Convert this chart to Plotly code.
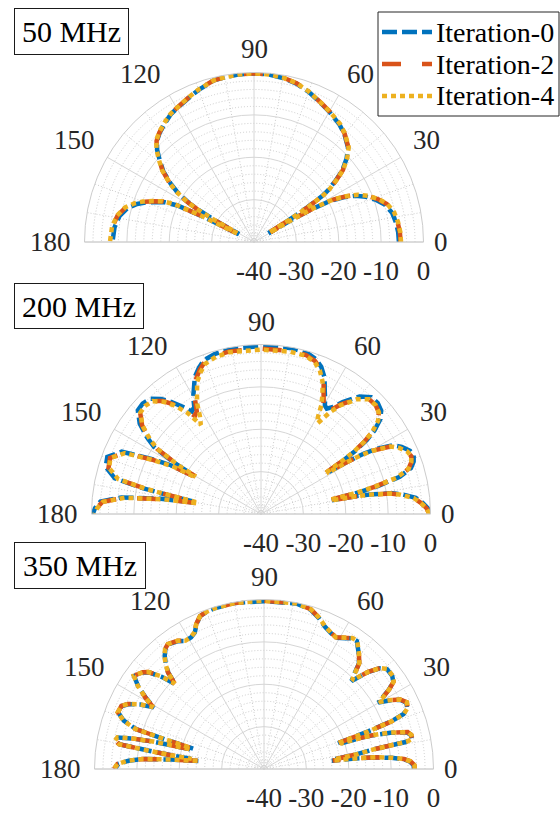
import math
import plotly.graph_objects as go

# ---------------- data (dB vs angle in degrees) ----------------
series_names = ["Iteration-0", "Iteration-2", "Iteration-4"]
panel_titles = ["50 MHz", "200 MHz", "350 MHz"]
angle_ticks = [0, 30, 60, 90, 120, 150, 180]
radial_ticks = [-40, -30, -20, -10, 0]
radial_ticktext = ["-40", "-30", "-20", "-10", "0"]

theta_50 = [0, 4, 8, 12, 16, 19, 22, 24.5, 26.5, 28.3, 29.5, 30.3, 30.8, 31.2, 31.6, 32.2, 33, 34, 35, 37,
            39, 42, 45, 50, 54, 60, 64, 70, 75, 80, 85, 90, 95, 100, 104, 110, 114, 118, 123, 127,
            131, 134, 136.5, 139, 142, 145, 147, 149, 150, 151, 152, 152.5, 153, 153.5, 154.5, 156, 158, 160, 162, 165,
            169, 174, 180]
it0_50 = [-5.8, -5.9, -6.2, -6.7, -7.9, -9.5, -11.5, -13.7, -16.4, -19.5, -24, -29, -36, None, -36, -30, -25, -20.5, -18.6, -15.8,
          -13.2, -10.6, -8.6, -6.8, -5.7, -4.5, -3.7, -2.3, -1.3, -0.7, -0.3, -0.2, -0.3, -0.5, -0.7, -1.8, -2.6, -3.3, -4.0, -5.0,
          -6.0, -7.0, -8.5, -10.5, -12.8, -16.0, -18.5, -22, -25, -30, -36, None, -36, -27, -20, -17, -14.8, -12.7, -11.0, -9.1,
          -7.7, -6.9, -6.6]
it2_50 = [-5.4, -5.5, -5.8, -6.3, -7.4, -9.0, -11.0, -13.2, -15.9, -19.0, -23.5, -28.5, -35.5, None, -35.5, -29.5, -24.5, -20.2, -18.3, -15.6,
          -13.0, -10.5, -8.5, -6.7, -5.6, -4.4, -3.6, -2.2, -1.2, -0.6, -0.3, -0.2, -0.3, -0.5, -0.7, -1.7, -2.5, -3.2, -3.9, -4.9,
          -5.9, -6.9, -8.4, -10.3, -12.6, -15.7, -18.2, -21.6, -24.5, -29.5, -35.5, None, -35.5, -26.5, -19.4, -16.5, -14.3, -12.2, -10.5, -8.6,
          -7.2, -6.4, -6.1]
it4_50 = [-5.3, -5.4, -5.7, -6.2, -7.3, -8.9, -10.9, -13.1, -15.8, -18.9, -23.4, -28.4, -35.5, None, -35.5, -29.4, -24.4, -20.1, -18.2, -15.5,
          -12.9, -10.4, -8.4, -6.6, -5.5, -4.4, -3.6, -2.2, -1.2, -0.6, -0.3, -0.2, -0.3, -0.5, -0.7, -1.7, -2.5, -3.2, -3.9, -4.8,
          -5.8, -6.8, -8.3, -10.2, -12.5, -15.6, -18.1, -21.5, -24.4, -29.4, -35.5, None, -35.5, -26.4, -19.3, -16.4, -14.2, -12.1, -10.4, -8.5,
          -7.1, -6.3, -6.0]

theta_200 = [0, 2, 4, 6, 8, 9, 10, 10.6, 11, 11.3, 11.6, 12.5, 13.5, 15, 17, 19, 21, 23, 25.5, 27.6,
             29.5, 30.4, 31.2, 31.8, 32.1, 32.4, 33.2, 33.9, 35, 36.4, 38.5, 40.7, 43.5, 46.7, 50, 53.9, 56, 58, 59.5, 61,
             62.7, 65, 67.7, 70.5, 74.2, 80, 90, 101, 106, 110.4, 113, 115.8, 118, 120.1, 122, 124, 126, 128.6, 131, 133.8,
             137, 139.9, 143.3, 146, 147.9, 149.5, 150.2, 150.5, 150.8, 151.6, 153.4, 155.9, 159.6, 163.1, 166.3, 167.7, 168.5, 169.6, 170, 170.4,
             171.4, 173.2, 175.6, 178, 180]
it0_200 = [-0.1, -0.6, -1.8, -3.3, -6.5, -8.6, -13, -17, -23, None, -22, -16, -11.5, -6.1, -3.0, -1.9, -1.4, -1.8, -3.2, -5.0,
           -9.0, -11.8, -16, -21.2, None, -21.2, -16, -12.8, -9.5, -6.7, -4.0, -2.6, -2.0, -2.1, -3.8, -7.3, -9.5, -10.7, -10.3, -8.8,
           -7.2, -4.5, -2.5, -1.2, -0.4, -0.2, -0.4, -0.3, -0.7, -1.3, -2.5, -4.1, -6.3, -8.1, -10.3, -10.8, -8.8, -6.2, -4.0, -2.3,
           -1.8, -2.0, -4.3, -7.5, -10.2, -16.5, -21.5, None, -21, -15.8, -10.8, -4.0, -1.3, -1.7, -4.5, -11.6, -17.6, -23.7, None, -23.8,
           -16.1, -6.9, -2.0, -0.8, -0.3]
it2_200 = [-0.3, -0.9, -2.2, -3.8, -7.0, -9.2, -13.5, -17.5, -23.5, None, -23, -17, -12.3, -6.8, -3.6, -2.5, -2.0, -2.4, -3.8, -5.6,
           -9.6, -12.4, -16.6, -21.8, None, -21.8, -16.8, -13.6, -10.2, -7.4, -4.7, -3.3, -2.7, -2.8, -4.5, -8.0, -10.3, -12.2, -11.5, -9.5,
           -7.8, -5.0, -3.0, -1.7, -1.0, -0.9, -1.0, -0.9, -1.2, -1.8, -3.0, -4.7, -7.0, -9.0, -11.4, -12.1, -9.6, -6.9, -4.7, -3.0,
           -2.5, -2.7, -5.0, -8.2, -11.0, -17.2, -22.2, None, -21.6, -16.5, -11.5, -4.7, -2.0, -2.4, -5.2, -12.3, -18.3, -24.3, None, -24.4,
           -16.8, -7.5, -2.5, -1.2, -0.6]
it4_200 = [-0.3, -0.9, -2.2, -3.8, -7.0, -9.2, -13.5, -17.5, -23.5, None, -23, -17, -12.3, -6.8, -3.6, -2.5, -2.0, -2.4, -3.8, -5.6,
           -9.6, -12.4, -16.6, -21.8, None, -21.8, -16.8, -13.6, -10.2, -7.4, -4.7, -3.3, -2.7, -2.8, -4.6, -8.3, -11.2, -14.7, -13.6, -10.6,
           -8.4, -5.6, -3.4, -2.0, -1.2, -1.1, -1.2, -1.1, -1.4, -2.2, -3.6, -5.4, -7.8, -10.0, -12.8, -14.6, -10.5, -7.2, -4.9, -3.1,
           -2.6, -2.8, -5.1, -8.3, -11.1, -17.3, -22.3, None, -21.7, -16.6, -11.6, -4.8, -2.1, -2.5, -5.3, -12.4, -18.4, -24.4, None, -24.5,
           -16.9, -7.6, -2.6, -1.3, -0.7]

theta_350 = [0, 1.5, 3, 4.1, 5, 6, 6.6, 7, 7.4, 7.9, 9, 10.2, 10.8, 11.5, 13, 14.4, 16, 17.2, 17.8, 18.4,
             18.8, 19.2, 19.8, 20.5, 21.5, 23, 25, 27, 28.5, 30.2, 31, 32.5, 34, 36, 39, 41, 43, 45.2, 46.5, 48,
             50.9, 54, 56, 58, 61.4, 64, 67, 70, 73.7, 79, 90, 100, 106.8, 110, 112.7, 115, 116.9, 119, 121.4, 124,
             127.6, 129.5, 131.3, 133, 134.8, 136.3, 138, 140, 141.4, 144.4, 146.6, 149, 150.8, 152.5, 154.5, 156.1, 158.8, 161, 162.7, 163.3,
             164, 164.5, 165, 166.1, 167, 167.8, 169.2, 170.3, 171, 171.6, 172, 172.5, 173, 174.2, 175.3, 176.5, 178, 180]
it0_350 = [-4.6, -4.7, -5.6, -7.1, -9.8, -13.7, -18.5, -23.9, None, -23, -18, -13.5, -6.0, -4.4, -4.4, -5.2, -9.0, -13, -16, -21.3,
           None, -21.5, -14, -8.0, -4.6, -3.3, -2.9, -4.0, -6.0, -8.8, -7.5, -5.0, -3.2, -2.6, -2.6, -3.8, -6.5, -10.7, -9.0, -6.5,
           -4.6, -2.7, -2.8, -3.6, -4.7, -4.2, -3.4, -2.1, -0.8, -0.2, -0.4, -0.2, -0.3, -0.5, -0.9, -2.3, -3.9, -4.5, -4.6, -3.6,
           -2.9, -3.4, -4.5, -6.0, -7.9, -11.0, -7.5, -4.5, -3.5, -2.3, -4.4, -7.5, -10.2, -7.0, -4.5, -3.3, -3.1, -5.0, -8.4, -15.5,
           -22.6, None, -22, -13.2, -8.0, -4.8, -4.4, -5.5, -12.8, -18, -23, None, -24.4, -18, -11.4, -8.0, -5.6, -4.8]
it2_350 = [-4.4, -4.5, -5.4, -6.9, -9.6, -13.5, -18.3, -23.7, None, -22.8, -17.8, -13.3, -5.8, -4.3, -4.3, -5.0, -8.8, -12.8, -15.8, -21.1,
           None, -21.3, -13.8, -7.8, -4.5, -3.2, -2.8, -3.9, -5.9, -8.6, -7.3, -4.9, -3.1, -2.5, -2.5, -3.7, -6.4, -10.5, -8.8, -6.4,
           -4.5, -2.6, -2.7, -3.5, -4.6, -4.1, -3.3, -2.0, -0.7, -0.2, -0.3, -0.2, -0.3, -0.5, -0.9, -2.2, -3.8, -4.4, -4.5, -3.5,
           -2.8, -3.3, -4.4, -5.9, -7.8, -10.8, -7.3, -4.4, -3.4, -2.2, -4.3, -7.4, -10.0, -6.9, -4.4, -3.2, -3.0, -4.9, -8.2, -15.3,
           -22.4, None, -21.8, -13.0, -7.8, -4.6, -4.2, -5.3, -12.6, -17.8, -22.8, None, -24.2, -17.8, -11.2, -7.8, -5.4, -4.6]
it4_350 = [-4.4, -4.5, -5.4, -6.9, -9.6, -13.5, -18.3, -23.7, None, -22.8, -17.8, -13.3, -5.8, -4.3, -4.3, -5.0, -8.8, -12.8, -15.8, -21.1,
           None, -21.3, -13.8, -7.8, -4.5, -3.2, -2.8, -3.9, -5.9, -8.6, -7.3, -4.9, -3.1, -2.5, -2.5, -3.7, -6.4, -10.5, -8.8, -6.4,
           -4.5, -2.6, -2.7, -3.5, -4.6, -4.1, -3.3, -2.0, -0.7, -0.2, -0.3, -0.2, -0.3, -0.5, -0.9, -2.2, -3.8, -4.4, -4.5, -3.5,
           -2.8, -3.3, -4.4, -5.9, -7.8, -10.8, -7.3, -4.4, -3.4, -2.2, -4.3, -7.4, -10.0, -6.9, -4.4, -3.2, -3.0, -4.9, -8.2, -15.3,
           -22.4, None, -21.8, -13.0, -7.8, -4.6, -4.2, -5.3, -12.6, -17.8, -22.8, None, -24.2, -17.8, -11.2, -7.8, -5.4, -4.6]

panels = [
    (theta_50, [it0_50, it2_50, it4_50]),
    (theta_200, [it0_200, it2_200, it4_200]),
    (theta_350, [it0_350, it2_350, it4_350]),
]

# ---------------- style ----------------
W, H = 560, 813
FONT = "Liberation Serif, Times New Roman, DejaVu Serif, serif"
TICK = "#262626"
GRID = "#d6d6d6"
MINOR = "#cccccc"
EDGE = "#cccccc"
colors = ["#0072BD", "#D95319", "#EDB120"]
dashes = ["15px,5px", "19px,21px", "5px,4px"]
LW = 4.5
R = 169.5
LABEL_GAP = 12
centers = [(254, 242), (261, 514), (264, 769)]
title_boxes = [(14, 8, 115, 47), (14, 283, 130, 46), (14, 542, 132, 47)]
minor_r = [-38, -36, -34, -32, -28, -26, -24, -22, -18, -16, -14, -12, -8, -6, -4, -2]
minor_t = [a for a in range(0, 181, 10) if a % 30 != 0]

def px(x):
    return x / W

def py(y):
    return 1 - y / H

fig = go.Figure()
layout = {}
annotations = []
shapes = []
for i, (theta, rs) in enumerate(panels):
    cx, cy = centers[i]
    dx = [px(cx - R), px(cx + R)]
    dy = [py(cy), py(cy - R)]
    minor_key = "polar" if i == 0 else f"polar{2 * i + 1}"
    main_key = f"polar{2 * i + 2}"
    layout[minor_key] = dict(
        domain=dict(x=dx, y=dy), sector=[0, 180], bgcolor="rgba(0,0,0,0)",
        radialaxis=dict(range=[-40, 0], tickvals=minor_r, showticklabels=False, ticks="",
                        showline=False, showgrid=True, gridcolor=MINOR, griddash="1px,2px", gridwidth=1),
        angularaxis=dict(rotation=0, direction="counterclockwise", tickvals=minor_t,
                         showticklabels=False, ticks="", showline=False, showgrid=True,
                         gridcolor=MINOR, griddash="1px,2px", gridwidth=1),
    )
    # empty trace so the minor-grid polar subplot is instantiated
    fig.add_trace(go.Scatterpolar(r=[], theta=[], subplot=minor_key, mode="lines",
                                  showlegend=False, hoverinfo="skip"))
    layout[main_key] = dict(
        domain=dict(x=dx, y=dy), sector=[0, 180], bgcolor="rgba(0,0,0,0)",
        radialaxis=dict(range=[-40, 0], tickvals=radial_ticks, ticktext=radial_ticktext,
                        angle=0, side="clockwise", tickangle=0, showline=False,
                        ticks="outside", ticklen=5, tickcolor="rgba(0,0,0,0)",
                        gridcolor=GRID, gridwidth=1,
                        tickfont=dict(family=FONT, size=27, color=TICK)),
        angularaxis=dict(rotation=0, direction="counterclockwise", tickvals=angle_ticks,
                         showticklabels=False, ticks="", showline=True, linecolor=EDGE, linewidth=1,
                         gridcolor=GRID, gridwidth=1),
    )
    for k in range(3):
        fig.add_trace(go.Scatterpolar(
            theta=theta, r=rs[k], mode="lines", name=series_names[k],
            subplot=main_key, showlegend=False, connectgaps=False,
            line=dict(color=colors[k], width=LW, dash=dashes[k]),
        ))
    # angular tick labels, placed just outside the rim like the original
    for a in angle_ticks:
        ca, sa = math.cos(math.radians(a)), math.sin(math.radians(a))
        gap = LABEL_GAP - 4 if a == 0 else LABEL_GAP
        ax_ = cx + (R + gap) * ca
        ay_ = cy - (R + gap) * sa
        xa = "left" if ca > 0.01 else ("right" if ca < -0.01 else "center")
        ya = "bottom" if sa > 0.01 else "middle"
        annotations.append(dict(
            text=str(a), xref="paper", yref="paper", x=px(ax_), y=py(ay_),
            xanchor=xa, yanchor=ya, yshift=(-6 if ya == "bottom" else 0), showarrow=False,
            font=dict(family=FONT, size=27, color=TICK),
        ))
    bx, by, bw, bh = title_boxes[i]
    annotations.append(dict(
        text=panel_titles[i], xref="paper", yref="paper",
        x=px(bx), y=py(by), xanchor="left", yanchor="top", showarrow=False,
        width=bw - 2, height=bh - 2, align="center", valign="middle",
        font=dict(family=FONT, size=30, color="black"),
        bordercolor="#1a1a1a", borderwidth=1, borderpad=0, bgcolor="white",
    ))

# legend drawn as box + line samples + labels
leg_box = (378, 12, 559, 116)
leg_rows = [32, 64, 96]
shapes.append(dict(type="rect", xref="paper", yref="paper",
                   x0=px(leg_box[0]), x1=px(leg_box[2]), y0=py(leg_box[3]), y1=py(leg_box[1]),
                   line=dict(color="#262626", width=1), fillcolor="white", layer="above"))
for k in range(3):
    shapes.append(dict(type="line", xref="paper", yref="paper",
                       x0=px(382), x1=px(432), y0=py(leg_rows[k]), y1=py(leg_rows[k]),
                       line=dict(color=colors[k], width=LW, dash=dashes[k]), layer="above"))
    annotations.append(dict(
        text=series_names[k], xref="paper", yref="paper", x=px(434), y=py(leg_rows[k]),
        xanchor="left", yanchor="middle", showarrow=False,
        font=dict(family=FONT, size=28, color="black"),
    ))

fig.update_layout(
    width=W, height=H, margin=dict(l=0, r=0, t=0, b=0),
    paper_bgcolor="white", plot_bgcolor="white",
    annotations=annotations, shapes=shapes, showlegend=False,
    **layout,
)
fig.write_html("out.html", config={"displayModeBar": False},
               post_script="document.body.style.margin='0';document.body.style.overflow='hidden';")
